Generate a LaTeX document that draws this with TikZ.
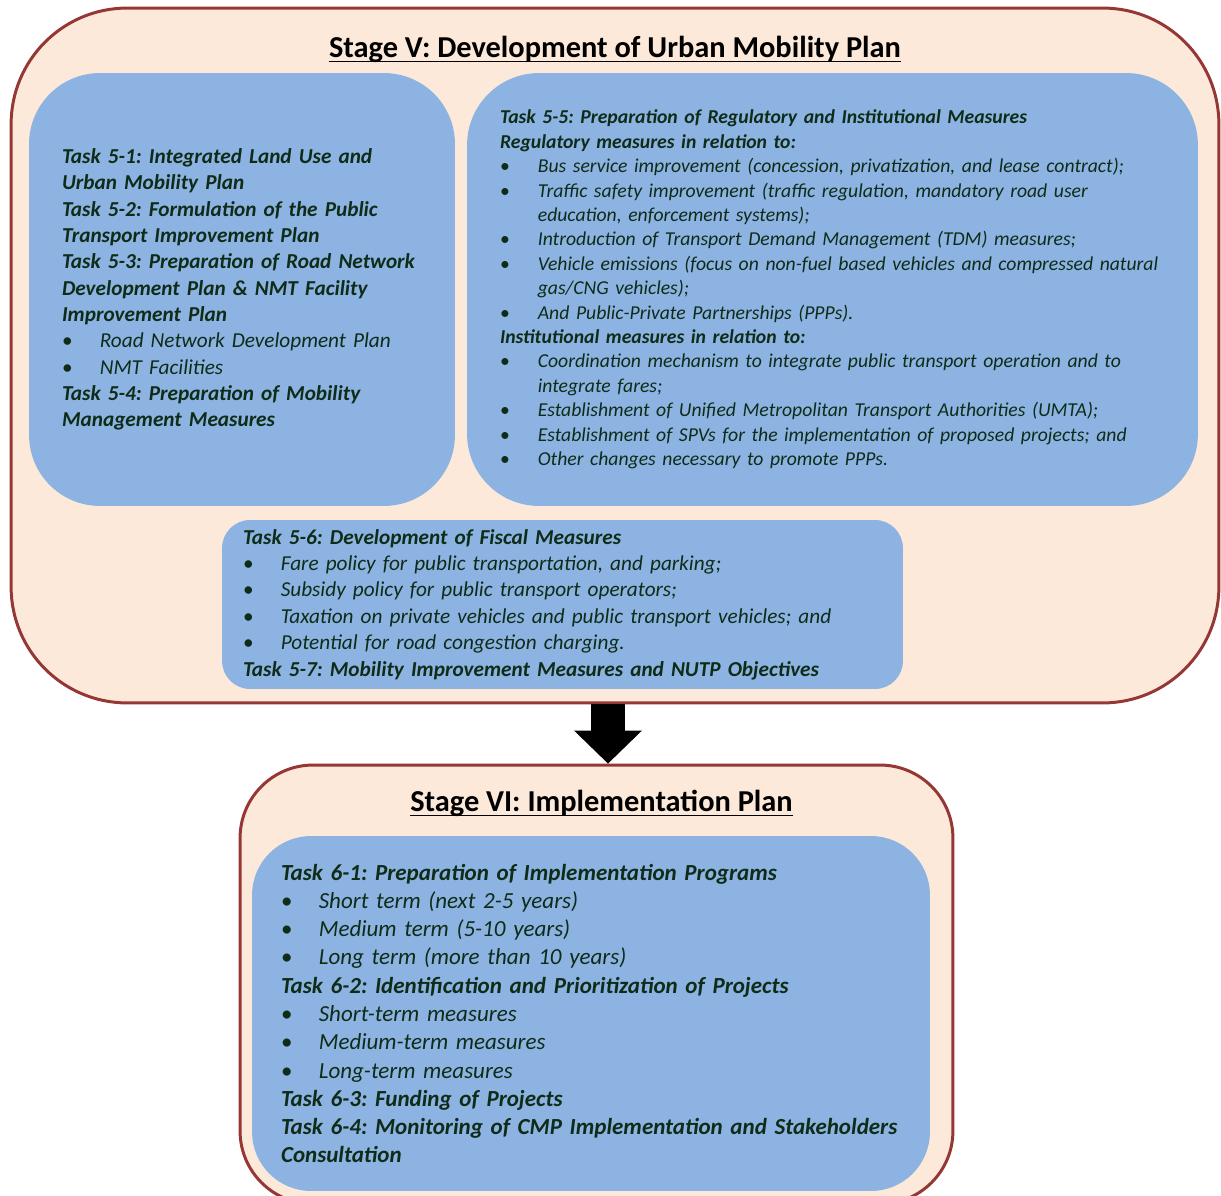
\documentclass[tikz,border=0pt]{standalone}
\usepackage{fontspec}
\setmainfont{Carlito}
\usepackage{xcolor}
\usepackage{tikz}
\usetikzlibrary{positioning,arrows.meta}
\definecolor{stagefill}{HTML}{FDE9D9}
\definecolor{stageline}{HTML}{953735}
\definecolor{taskfill}{HTML}{8DB3E2}
\definecolor{taskink}{RGB}{14,44,24}
\newcommand{\itemmark}{\makebox[21.5pt][l]{\upshape\mdseries\textbullet}}
\newcommand{\itemgap}{\hspace*{21.5pt}}
\frenchspacing

\begin{document}
\begin{tikzpicture}[x=0.02cm, y=-0.02cm,
  stage/.style={draw=stageline, line width=1.7pt, fill=stagefill},
  task/.style={fill=taskfill, text=taskink, align=left, inner ysep=0pt},
  title/.style={font=\fontsize{17.3}{21}\selectfont\bfseries, inner sep=0pt},
  bigarrow/.style={line width=19.3pt, -{Triangle[width=38.5pt, length=18.7pt, line width=0pt]}}]
\useasboundingbox (0,0) rectangle (1221,1196);
\clip (0,0) rectangle (1221,1196);

\node[stage, minimum width=24.16cm, minimum height=13.9cm, rounded corners=2.32cm] (stage5) at (615,355.5) {};
\node[stage, minimum width=14.26cm, minimum height=8.78cm, rounded corners=1.46cm] (stage6) at (596.5,984.5) {};

\node[title] (title5) at (615,49) {Stage V: Development of Urban Mobility Plan};
\draw[line width=1pt] ([yshift=-2.5pt]title5.base west) -- ([yshift=-2.5pt]title5.base east);
\node[title] (title6) at (601.5,803) {Stage VI: Implementation Plan};
\draw[line width=1pt] ([yshift=-2.5pt]title6.base west) -- ([yshift=-2.5pt]title6.base east);

\node[task, minimum width=8.52cm, minimum height=8.66cm, text width=7.2cm, inner xsep=0.66cm, rounded corners=1.42cm,
  font=\fontsize{12.1}{15}\selectfont\itshape] (task51) at (242,289.5) {%
\textbf{Task 5-1: Integrated Land Use and}\\
\textbf{Urban Mobility Plan}\\
\textbf{Task 5-2: Formulation of the Public}\\
\textbf{Transport Improvement Plan}\\
\textbf{Task 5-3: Preparation of Road Network}\\
\textbf{Development Plan \& NMT Facility}\\
\textbf{Improvement Plan}\\
\itemmark Road Network Development Plan\\
\itemmark NMT Facilities\\
\textbf{Task 5-4: Preparation of Mobility}\\
\textbf{Management Measures}};

\node[task, minimum width=14.62cm, minimum height=8.66cm, text width=13.3cm, inner xsep=0.66cm, rounded corners=1.44cm,
  font=\fontsize{11.2}{13.9}\selectfont\itshape] (task55) at (832.5,289.5) {%
\textbf{Task 5-5: Preparation of Regulatory and Institutional Measures}\\
\textbf{Regulatory measures in relation to:}\\
\itemmark Bus service improvement (concession, privatization, and lease contract);\\
\itemmark Traffic safety improvement (traffic regulation, mandatory road user\\
\itemgap education, enforcement systems);\\
\itemmark Introduction of Transport Demand Management (TDM) measures;\\
\itemmark Vehicle emissions (focus on non-fuel based vehicles and compressed natural\\
\itemgap gas/CNG vehicles);\\
\itemmark And Public-Private Partnerships (PPPs).\\
\textbf{Institutional measures in relation to:}\\
\itemmark Coordination mechanism to integrate public transport operation and to\\
\itemgap integrate fares;\\
\itemmark Establishment of Unified Metropolitan Transport Authorities (UMTA);\\
\itemmark Establishment of SPVs for the implementation of proposed projects; and\\
\itemmark Other changes necessary to promote PPPs.};

\node[task, minimum width=13.62cm, minimum height=3.38cm, text width=12.78cm, inner xsep=0.42cm, rounded corners=0.56cm,
  font=\fontsize{12.1}{15}\selectfont\itshape] (task56) at (562.5,604.5) {%
\textbf{Task 5-6: Development of Fiscal Measures}\\
\itemmark Fare policy for public transportation, and parking;\\
\itemmark Subsidy policy for public transport operators;\\
\itemmark Taxation on private vehicles and public transport vehicles; and\\
\itemmark Potential for road congestion charging.\\
\textbf{Task 5-7: Mobility Improvement Measures and NUTP Objectives}};

\node[task, minimum width=13.56cm, minimum height=7.1cm, text width=12.4cm, inner xsep=0.58cm, rounded corners=1.18cm,
  font=\fontsize{13.1}{16.1}\selectfont\itshape] (task61) at (591,1013.5) {%
\textbf{Task 6-1: Preparation of Implementation Programs}\\
\itemmark Short term (next 2-5 years)\\
\itemmark Medium term (5-10 years)\\
\itemmark Long term (more than 10 years)\\
\textbf{Task 6-2: Identification and Prioritization of Projects}\\
\itemmark Short-term measures\\
\itemmark Medium-term measures\\
\itemmark Long-term measures\\
\textbf{Task 6-3: Funding of Projects}\\
\textbf{Task 6-4: Monitoring of CMP Implementation and Stakeholders}\\
\textbf{Consultation}};

\coordinate (tip) at (608,735);
\draw[bigarrow] (stage5.south -| tip) -- (stage6.north -| tip);

\end{tikzpicture}
\end{document}
